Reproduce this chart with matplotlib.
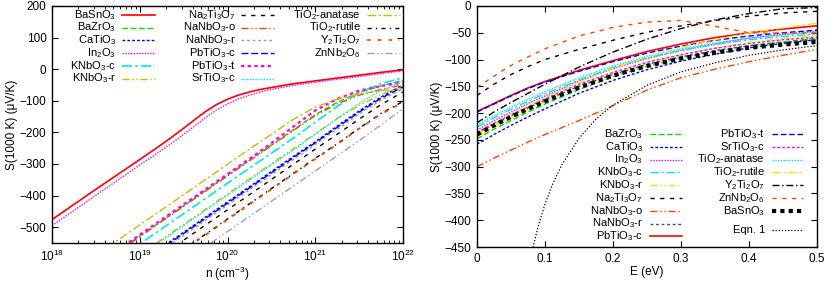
import matplotlib
matplotlib.use('Agg')
import numpy as np
import matplotlib.pyplot as plt
from matplotlib.lines import Line2D

plt.rcParams['font.family'] = ['Liberation Sans', 'DejaVu Sans']
plt.rcParams['mathtext.default'] = 'regular'
plt.rcParams['font.size'] = 8.5

# ---- left panel data: S(1000 K) vs log10 n ----
n_exp = [18.00, 18.25, 18.50, 18.75, 19.00, 19.25, 19.50, 19.75, 20.00,
         20.25, 20.50, 20.75, 21.00, 21.25, 21.50, 21.75, 22.00]
# finer grid for the two top curves (sharper bend)
n_exp_top = [18.00, 18.50, 19.00, 19.125, 19.25, 19.375, 19.50, 19.625, 19.75, 19.875,
             20.00, 20.125, 20.25, 20.375, 20.50, 20.75, 21.00, 21.25, 21.50, 21.75, 22.00]

s_basno3 = [-476, -380, -286, -262, -238, -213, -187, -160, -134, -112,
            -95, -82, -72, -64, -58, -46, -37, -28, -19, -10, -2]
s_in2o3 = [-495, -399, -303, -280, -256, -232, -206, -180, -153, -129,
           -110, -94, -82, -72, -64, -51, -41, -32, -23, -14, -5]

s_bazro3 = [-720, -672, -624, -576, -528, -480, -432, -384, -336, -288, -240, -192, -144, -105, -74, -53, -35]
s_catio3 = [-804, -756, -708, -660, -612, -564, -516, -468, -420, -372, -324, -276, -230, -180, -132, -88, -50]
s_knbo3c = [-745, -697, -649, -601, -553, -505, -457, -409, -361, -313, -266, -218, -168, -118, -74, -46, -27]
s_knbo3r = [-779, -731, -683, -635, -587, -539, -491, -443, -395, -347, -299, -252, -204, -156, -115, -80, -55]
s_na2ti3o7 = [-829, -781, -733, -685, -637, -589, -541, -493, -445, -397, -349, -301, -253, -206, -158, -112, -72]
s_nanbo3o = [-722, -674, -626, -578, -530, -482, -434, -386, -338, -290, -242, -194, -147, -110, -82, -64, -50]
s_nanbo3r = [-814, -766, -718, -670, -622, -574, -526, -478, -430, -382, -334, -286, -238, -190, -142, -98, -62]
s_pbtio3c = [-808, -760, -712, -664, -616, -568, -520, -472, -424, -376, -328, -280, -233, -184, -136, -92, -56]
s_pbtio3t = [-716, -668, -620, -572, -524, -476, -428, -380, -332, -284, -234, -182, -131, -94, -68, -53, -42]
s_srtio3c = [-783, -735, -687, -639, -591, -543, -495, -447, -399, -351, -303, -256, -206, -156, -108, -68, -40]
s_anatase = [-685, -637, -589, -541, -493, -445, -397, -349, -301, -253, -206, -159, -120, -95, -78, -68, -62]
s_rutile = [-858, -810, -762, -714, -666, -618, -570, -522, -474, -426, -378, -330, -282, -236, -187, -140, -102]
s_y2ti2o7 = [-860, -812, -764, -716, -668, -620, -572, -524, -476, -428, -380, -332, -284, -238, -188, -142, -105]
s_znnb2o6 = [-898, -850, -802, -754, -706, -658, -610, -562, -514, -466, -418, -370, -322, -274, -226, -176, -125]

# ---- right panel data: S(1000 K) vs E ----
E = [0, 0.025, 0.05, 0.075, 0.1, 0.15, 0.2, 0.25, 0.3, 0.35, 0.4, 0.45, 0.5]

r_bazro3 = [-248, -230, -214, -198, -183, -156, -132, -113, -97, -85, -74, -67, -60]
r_catio3 = [-258, -240, -223, -207, -192, -163, -139, -119, -103, -90, -78, -70, -63]
r_in2o3 = [-232, -214, -198, -182, -168, -140, -117, -98, -83, -71, -60, -53, -47]
r_knbo3c = [-226, -209, -193, -178, -164, -138, -115, -97, -83, -72, -63, -57, -52]
r_knbo3r = [-244, -226, -209, -193, -179, -151, -127, -108, -92, -79, -68, -61, -54]
r_na2ti3o7 = [-167, -146, -128, -113, -100, -81, -64, -49, -37, -27, -19, -13, -10]
r_nanbo3o = [-300, -284, -269, -254, -240, -214, -186, -157, -134, -118, -104, -92, -81]
r_nanbo3r = [-238, -221, -205, -190, -176, -150, -128, -109, -95, -83, -74, -68, -62]
r_pbtio3c = [-197, -182, -167, -153, -141, -120, -102, -85, -71, -59, -50, -43, -37]
r_pbtio3t = [-198, -183, -168, -154, -142, -122, -104, -88, -75, -64, -56, -50, -45]
r_srtio3c = [-236, -219, -203, -188, -173, -146, -124, -105, -91, -79, -70, -63, -58]
r_anatase = [-222, -205, -189, -174, -160, -134, -112, -94, -80, -69, -60, -54, -49]
r_rutile = [-240, -221, -204, -187, -171, -142, -116, -95, -77, -63, -50, -41, -32]
r_y2ti2o7 = [-218, -198, -180, -163, -146, -114, -86, -62, -42, -26, -14, -5, -3]
r_znnb2o6 = [-152, -131, -111, -95, -80, -56, -40, -30, -27, -38, -50, -51, -50]
r_basno3 = [-240, -223, -207, -192, -178, -152, -130, -112, -98, -87, -78, -72, -67]

eqn_E = [0.08, 0.09, 0.1, 0.11, 0.125, 0.15, 0.175, 0.2, 0.25, 0.3, 0.35, 0.4, 0.45, 0.5]
eqn_S = [-462, -411, -370, -336, -296, -247, -211, -185, -148, -123, -106, -92, -82, -74]

# colours (gnuplot-ish)
RED, GRN, BLU, MAG, CYA = '#ff0000', '#00dd00', '#0000ff', '#ff00ff', '#00e8e8'
OLV, YEL, BLK, ORG, GRY = '#c0c000', '#e8e800', '#000000', '#ff4500', '#a0a0a0'

W, H = 831, 283
fig = plt.figure(figsize=(W / 100, H / 100), dpi=100)


def px_axes(x0, y0, x1, y1):
    return fig.add_axes([x0 / W, 1 - y1 / H, (x1 - x0) / W, (y1 - y0) / H])


def key(xt, x0, x1, y, label, color, ls, lw):
    # gnuplot style key: right aligned text, line sample to its right
    fig.text(xt / W, 1 - (y + 3) / H, label, ha='right', va='baseline', fontsize=8)
    fig.add_artist(Line2D([x0 / W, x1 / W], [1 - y / H, 1 - y / H], color=color,
                          ls=ls, lw=lw, transform=fig.transFigure))


ax1 = px_axes(52, 6, 403, 243)
ax2 = px_axes(477, 6, 817, 247)

n = 10.0 ** np.array(n_exp)
n_top = 10.0 ** np.array(n_exp_top)
left = [
    ('BaSnO$_3$', n_top, s_basno3, RED, '-', 1.2),
    ('BaZrO$_3$', n, s_bazro3, GRN, (0, (4, 2)), 1.0),
    ('CaTiO$_3$', n, s_catio3, BLU, (0, (2, 1.5)), 1.0),
    ('In$_2$O$_3$', n_top, s_in2o3, MAG, (0, (1, 1)), 1.0),
    ('KNbO$_3$-c', n, s_knbo3c, CYA, (0, (6, 2, 1.5, 2)), 1.2),
    ('KNbO$_3$-r', n, s_knbo3r, OLV, (0, (5, 2, 1, 2, 1, 2)), 1.0),
    ('Na$_2$Ti$_3$O$_7$', n, s_na2ti3o7, BLK, (0, (3, 4)), 1.0),
    ('NaNbO$_3$-o', n, s_nanbo3o, ORG, (0, (5, 2, 1, 2, 1, 2)), 1.0),
    ('NaNbO$_3$-r', n, s_nanbo3r, GRY, (0, (2, 2)), 1.0),
    ('PbTiO$_3$-c', n, s_pbtio3c, BLU, (0, (5, 2)), 1.0),
    ('PbTiO$_3$-t', n, s_pbtio3t, MAG, (0, (1.5, 1.5)), 1.6),
    ('SrTiO$_3$-c', n, s_srtio3c, CYA, (0, (1, 1)), 1.0),
    ('TiO$_2$-anatase', n, s_anatase, OLV, (0, (6, 2, 1.5, 2)), 1.0),
    ('TiO$_2$-rutile', n, s_rutile, BLK, (0, (3, 3, 1, 3)), 1.0),
    ('Y$_2$Ti$_2$O$_7$', n, s_y2ti2o7, ORG, (0, (2, 4)), 1.3),
    ('ZnNb$_2$O$_6$', n, s_znnb2o6, GRY, (0, (5, 2, 1, 2, 1, 2)), 1.0),
]
for lab, x, s, c, ls, lw in left:
    ax1.plot(x, s, color=c, ls=ls, lw=lw)

ax1.set_xscale('log')
ax1.set_xlim(1e18, 1e22)
ax1.set_ylim(-550, 200)
ax1.set_yticks(np.arange(-500, 201, 100))
ax1.set_xticks([1e18, 1e19, 1e20, 1e21, 1e22])
ax1.set_xticklabels(['$10^{18}$', '$10^{19}$', '$10^{20}$', '$10^{21}$', '$10^{22}$'])
ax1.set_xlabel('n (cm$^{-3}$)', labelpad=1)
ax1.set_ylabel('S(1000 K) (\u03bcV/K)', labelpad=1)

# left key: three columns of six
cols = [(116, 122, 155), (236, 241, 274), (361, 367, 400)]
rows = [15, 27.7, 40.4, 53.1, 65.8, 78.5]
for i, (lab, x, s, c, ls, lw) in enumerate(left):
    xt, x0, x1 = cols[i // 6]
    key(xt, x0, x1, rows[i % 6], lab, c, ls, lw)

right = [
    ('BaZrO$_3$', r_bazro3, GRN, (0, (4, 2)), 1.0),
    ('CaTiO$_3$', r_catio3, BLU, (0, (2, 1.5)), 1.0),
    ('In$_2$O$_3$', r_in2o3, MAG, (0, (1, 1)), 1.0),
    ('KNbO$_3$-c', r_knbo3c, CYA, (0, (6, 2, 1.5, 2)), 1.0),
    ('KNbO$_3$-r', r_knbo3r, YEL, (0, (5, 2, 1, 2, 1, 2)), 1.0),
    ('Na$_2$Ti$_3$O$_7$', r_na2ti3o7, BLK, (0, (3, 4)), 1.0),
    ('NaNbO$_3$-o', r_nanbo3o, ORG, (0, (5, 2, 1, 2, 1, 2)), 1.0),
    ('NaNbO$_3$-r', r_nanbo3r, '#505050', (0, (2, 2)), 1.0),
    ('PbTiO$_3$-c', r_pbtio3c, RED, '-', 1.2),
    ('PbTiO$_3$-t', r_pbtio3t, BLU, (0, (4, 2)), 1.0),
    ('SrTiO$_3$-c', r_srtio3c, MAG, (0, (2, 1.5)), 1.0),
    ('TiO$_2$-anatase', r_anatase, CYA, (0, (1, 1)), 1.0),
    ('TiO$_2$-rutile', r_rutile, YEL, (0, (6, 2, 1.5, 2)), 1.0),
    ('Y$_2$Ti$_2$O$_7$', r_y2ti2o7, BLK, (0, (5, 2, 1, 2)), 1.0),
    ('ZnNb$_2$O$_6$', r_znnb2o6, ORG, (0, (3, 4)), 1.0),
    ('BaSnO$_3$', r_basno3, BLK, (0, (1, 1)), 3.0),
]
for lab, s, c, ls, lw in right:
    ax2.plot(E, s, color=c, ls=ls, lw=lw)
ax2.plot(eqn_E, eqn_S, color=BLK, ls=(0, (1, 1.5)), lw=0.9)

ax2.set_xlim(0, 0.5)
ax2.set_ylim(-450, 0)
ax2.set_yticks(np.arange(-450, 1, 50))
ax2.set_xticks(np.arange(0, 0.51, 0.1))
ax2.set_xticklabels(['0', '0.1', '0.2', '0.3', '0.4', '0.5'])
ax2.set_xlabel('E (eV)', labelpad=1)
ax2.set_ylabel('S(1000 K) (\u03bcV/K)', labelpad=1)

rrows = [134, 146.8, 159.6, 172.4, 185.2, 198, 210.8, 223.6, 236.4]
for i, (lab, s, c, ls, lw) in enumerate(right):
    if i < 9:
        key(643, 650, 682, rrows[i], lab, c, ls, lw)
    else:
        key(765, 772, 803, rrows[i - 9], lab, c, ls, lw)
key(765, 772, 803, 230, 'Eqn. 1', BLK, (0, (1, 1.5)), 0.9)

for ax in (ax1, ax2):
    ax.tick_params(which='major', direction='in', top=True, right=True,
                   length=4, width=0.8, labelsize=8.5, pad=4)
    ax.tick_params(which='minor', direction='in', top=True, right=True,
                   length=2, width=0.6)
    for sp in ax.spines.values():
        sp.set_linewidth(1.0)

fig.savefig('out.png', dpi=100)
